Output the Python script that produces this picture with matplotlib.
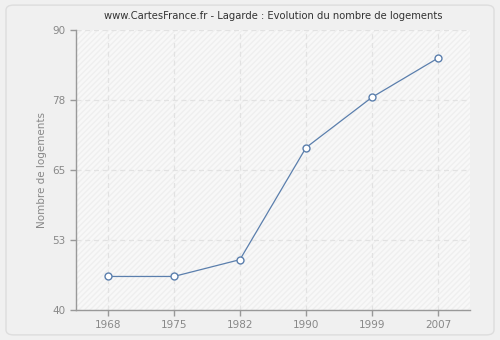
import matplotlib

matplotlib.use("Agg")
import matplotlib.pyplot as plt
from matplotlib.patches import FancyBboxPatch

# data
years = [1968, 1975, 1982, 1990, 1999, 2007]
logements = [46, 46, 49, 69, 78, 85]
ytick_pos = [40, 52.5, 65, 77.5, 90]
ytick_labels = ["40", "53", "65", "78", "90"]

title = "www.CartesFrance.fr - Lagarde : Evolution du nombre de logements"
line_color = "#5b7fad"
grey_text = "#888888"

fig = plt.figure(figsize=(5, 3.4), dpi=100, facecolor="#f0f0f0")

# rounded frame around the whole chart (drawn below the axes)
frame = FancyBboxPatch(
    (0.012, 0.015), 0.976, 0.97,
    boxstyle="round,pad=0,rounding_size=0.015",
    transform=fig.transFigure, facecolor="#f0f0f0",
    edgecolor="#dddddd", linewidth=1.0, zorder=-5,
)
fig.patches.append(frame)

ax = fig.add_axes([0.152, 0.088, 0.788, 0.824])
ax.set_zorder(1)
ax.set_facecolor("#f8f8f8")
ax.patch.set_hatch("//////")
ax.patch.set_edgecolor("#efefef")
ax.patch.set_linewidth(0)

# years are placed as evenly spaced categories
xpos = list(range(len(years)))
ax.plot(xpos, logements, color=line_color, linewidth=0.9,
        marker="o", markersize=5, markerfacecolor="white",
        markeredgecolor=line_color, markeredgewidth=1.0, zorder=3)

ax.set_xlim(-0.48, len(years) - 1 + 0.48)
ax.set_ylim(40, 90)
ax.set_xticks(xpos)
ax.set_xticklabels([str(y) for y in years])
ax.set_yticks(ytick_pos)
ax.set_yticklabels(ytick_labels)

ax.grid(True, color="#e2e2e2", linestyle=(0, (4, 3)), linewidth=0.9)
ax.set_axisbelow(True)

for side in ("top", "right"):
    ax.spines[side].set_visible(False)
for side in ("left", "bottom"):
    ax.spines[side].set_color("#999999")
    ax.spines[side].set_linewidth(1.0)

ax.tick_params(colors="#999999", labelcolor=grey_text, labelsize=7.5, length=4, width=1)
ax.set_ylabel("Nombre de logements", fontsize=7.5, color=grey_text)
ax.set_title(title, fontsize=7.2, color="#333333", pad=8)

fig.savefig("out.png", dpi=100, facecolor=fig.get_facecolor())
